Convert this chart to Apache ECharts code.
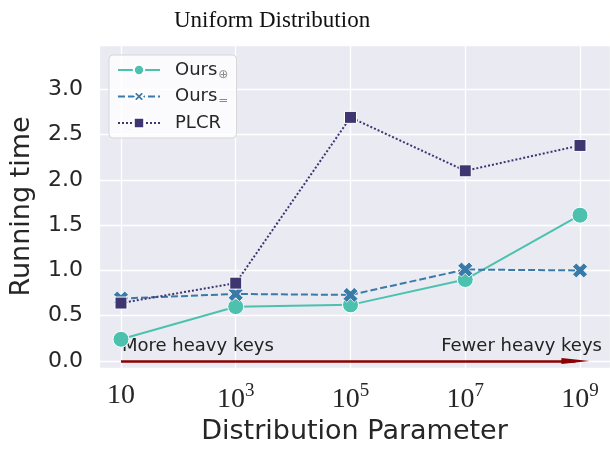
<!DOCTYPE html>
<html>
<head>
<meta charset="utf-8">
<script src="https://cdn.jsdelivr.net/npm/echarts@6/dist/echarts.min.js"></script>
<style>
  html, body { margin: 0; padding: 0; background: #fff; }
  #chart { width: 610px; height: 451px; }
</style>
</head>
<body>
<div id="chart"></div>
<script>
// x categories: distribution parameter 10^k
const tickBase = ['10', '10', '10', '10', '10'];
const tickExp = ['', '3', '5', '7', '9'];

const oursPlus = [0.24, 0.60, 0.62, 0.90, 1.61];
const oursEq = [0.69, 0.74, 0.73, 1.01, 1.00];
const plcr = [0.64, 0.86, 2.69, 2.10, 2.38];

// arrow along y = 0 and its two captions
const arrowFrom = [0, 0];
const arrowTo = [3.96, 0];
const notes = [
  { text: 'More heavy keys', at: [0, 0.16], side: 'right' },
  { text: 'Fewer heavy keys', at: [4.2, 0.16], side: 'left' }
];

const sans = 'DejaVu Sans';
const ink = '#262626';

const toPoints = (vals) => vals.map((v, i) => [i, v]);

const xMark = 'path://M2.5,0 L5,2.5 L7.5,0 L10,2.5 L7.5,5 L10,7.5 L7.5,10 L5,7.5 L2.5,10 L0,7.5 L2.5,5 L0,2.5 Z';

const chart = echarts.init(document.getElementById('chart'));

const option = {
  animation: false,
  title: {
    text: 'Uniform Distribution',
    left: 169,
    top: 4,
    textStyle: { fontFamily: 'Liberation Serif', fontSize: 23, fontWeight: 'normal', color: '#111' }
  },
  grid: {
    left: 99,
    right: 0,
    top: 45,
    bottom: 83,
    show: true,
    backgroundColor: '#eaeaf2',
    borderWidth: 0
  },
  legend: {
    orient: 'vertical',
    left: 109,
    top: 55,
    padding: [6, 8, 6, 8],
    itemWidth: 42,
    itemHeight: 13,
    itemGap: 7,
    backgroundColor: 'rgba(255,255,255,0.8)',
    borderColor: '#d6d6d6',
    borderWidth: 1,
    borderRadius: 4,
    data: ['Ours⊕', 'Ours=', 'PLCR'],
    formatter: (name) => name.startsWith('Ours') ? 'Ours{sub|' + name.slice(4) + '}' : name,
    textStyle: {
      fontFamily: sans,
      fontSize: 18,
      color: ink,
      padding: [0, 0, 0, 10],
      rich: {
        sub: { fontFamily: sans, fontSize: 12, color: '#8a8a8a', padding: [9, 0, 0, 1] }
      }
    }
  },
  xAxis: {
    type: 'value',
    min: -0.1917,
    max: 4.2614,
    splitNumber: 4,
    axisLine: { show: false },
    axisTick: { show: false },
    splitLine: { lineStyle: { color: '#fff', width: 1.3 } },
    axisLabel: {
      showMinLabel: false,
      showMaxLabel: false,
      margin: 14,
      fontFamily: 'Liberation Serif',
      fontSize: 28,
      color: ink,
      formatter: (v) => {
        const i = Math.round(v);
        if (Math.abs(v - i) > 1e-6 || i < 0 || i >= tickBase.length) return '';
        return tickExp[i] ? tickBase[i] + '{sup|' + tickExp[i] + '}' : tickBase[i];
      },
      rich: {
        sup: { fontFamily: 'Liberation Serif', fontSize: 19, color: ink, padding: [0, 0, 17, 0] }
      }
    },
    name: 'Distribution Parameter',
    nameLocation: 'middle',
    nameGap: 50,
    nameTextStyle: { fontFamily: sans, fontSize: 27, color: ink }
  },
  yAxis: {
    type: 'value',
    min: -0.077,
    max: 3.489,
    splitNumber: 7,
    axisLine: { show: false },
    axisTick: { show: false },
    splitLine: { lineStyle: { color: '#fff', width: 1.3 } },
    axisLabel: {
      showMinLabel: false,
      showMaxLabel: false,
      margin: 16,
      fontFamily: sans,
      fontSize: 22,
      color: ink,
      formatter: (v) => v.toFixed(1)
    },
    name: 'Running time',
    nameLocation: 'middle',
    nameRotate: 90,
    nameGap: 64,
    nameTextStyle: { fontFamily: sans, fontSize: 27, color: ink }
  },
  series: [
    {
      name: 'notes',
      type: 'scatter',
      symbolSize: 0,
      silent: true,
      z: 1,
      itemStyle: { opacity: 1 },
      data: notes.map((n) => ({
        value: n.at,
        label: {
          show: true,
          formatter: n.text,
          position: n.side,
          distance: 1,
          opacity: 1,
          fontFamily: sans,
          fontSize: 18,
          color: '#222'
        }
      })),
      markLine: {
        silent: true,
        symbol: ['none', 'triangle'],
        symbolSize: [6, 28],
        label: { show: false },
        lineStyle: { color: '#8b0000', width: 2.5, type: 'solid' },
        data: [[{ coord: arrowFrom }, { coord: arrowTo }]]
      }
    },
    {
      name: 'Ours⊕',
      type: 'line',
      data: toPoints(oursPlus),
      z: 3,
      symbol: 'circle',
      symbolSize: 16,
      itemStyle: { color: '#4cc2ae', borderColor: '#fff', borderWidth: 1 },
      lineStyle: { color: '#4cc2ae', width: 2 }
    },
    {
      name: 'Ours=',
      type: 'line',
      data: toPoints(oursEq),
      z: 4,
      symbol: xMark,
      symbolSize: 15,
      itemStyle: { color: '#3a7aa8', borderColor: '#fff', borderWidth: 0.8 },
      lineStyle: { color: '#3a7aa8', width: 2, type: [7, 3] }
    },
    {
      name: 'PLCR',
      type: 'line',
      data: toPoints(plcr),
      z: 5,
      symbol: 'rect',
      symbolSize: 12,
      itemStyle: { color: '#3f3671', borderColor: '#fff', borderWidth: 1 },
      lineStyle: { color: '#3f3671', width: 2, type: [2, 2] }
    }
  ]
};

chart.setOption(option);
window.addEventListener('resize', () => chart.resize());
</script>
</body>
</html>
